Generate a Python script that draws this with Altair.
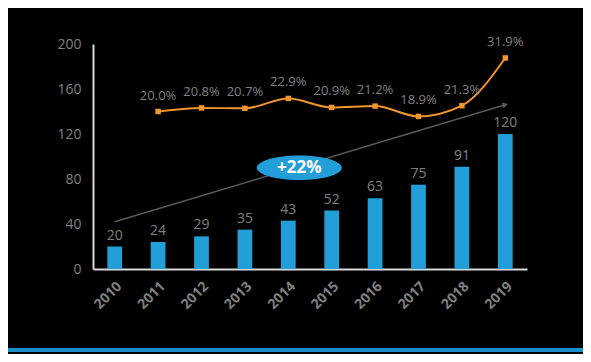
import altair as alt
import pandas as pd

# ---- data ----
years = ["2010", "2011", "2012", "2013", "2014", "2015", "2016", "2017", "2018", "2019"]
values = [20, 24, 29, 35, 43, 52, 63, 75, 91, 120]
growth_years = ["2011", "2012", "2013", "2014", "2015", "2016", "2017", "2018", "2019"]
growth = [20.0, 20.8, 20.7, 22.9, 20.9, 21.2, 18.9, 21.3, 31.9]
trend_years = ["2010", "2019"]
trend_values = [42, 146]
cagr_label = "+22%"
cagr_year = "2014"
cagr_value = 90
y_ticks = [0, 40, 80, 120, 160, 200]

BLUE = "#229ED9"
ORANGE = "#F0962A"
GREY = "#808080"
AXIS = "#D9D9D9"
FONT = "Open Sans"

bars_df = pd.DataFrame({"year": years, "value": values})
growth_df = pd.DataFrame({"year": growth_years, "pct": growth,
                          "label": [f"{g:.1f}%" for g in growth]})
trend_df = pd.DataFrame({"year": [trend_years[0]], "y": [trend_values[0]],
                         "year2": [trend_years[1]], "y2": [trend_values[1]]})
head_df = pd.DataFrame({"year": [trend_years[1]], "y": [trend_values[1]]})
cagr_df = pd.DataFrame({"year": [cagr_year], "y": [cagr_value], "label": [cagr_label]})

xscale = alt.Scale(domain=years, paddingInner=0.66, paddingOuter=0.33)
yscale = alt.Scale(domain=[0, 200])
pscale = alt.Scale(domain=[-15, 35])


def X():
    return alt.X("year:N", scale=xscale, title=None,
                 axis=alt.Axis(labelAngle=-45, labelColor=GREY, labelFontSize=14,
                               labelFontWeight="bold", labelFont=FONT,
                               domainColor=AXIS, domainWidth=2,
                               ticks=False, labelPadding=10))


def Y(field):
    return alt.Y(field, scale=yscale, title=None,
                 axis=alt.Axis(values=y_ticks, labelColor=GREY, labelFontSize=14,
                               labelFont=FONT, domainColor=AXIS, domainWidth=2,
                               ticks=False, grid=False, labelPadding=12))


bars = alt.Chart(bars_df).mark_bar(color=BLUE).encode(x=X(), y=Y("value:Q"))
bar_text = alt.Chart(bars_df).mark_text(
    color=GREY, fontSize=14, font=FONT, baseline="bottom", dy=-4
).encode(x=X(), y=Y("value:Q"), text="value:Q")

trend = alt.Chart(trend_df).mark_rule(color="#5A5A5A", strokeWidth=1.5).encode(
    x=X(), x2="year2:N", y=Y("y:Q"), y2="y2:Q")
head = alt.Chart(head_df).mark_point(
    shape="triangle-right", filled=True, color="#5A5A5A", size=40, angle=343, opacity=1
).encode(x=X(), y=Y("y:Q"))

ellipse_path = "M -1 0 A 1 0.29 0 1 1 1 0 A 1 0.29 0 1 1 -1 0 Z"
cagr_shape = alt.Chart(cagr_df).mark_point(
    shape=ellipse_path, filled=True, color=BLUE, size=7225, opacity=1, xOffset=11
).encode(x=X(), y=Y("y:Q"))
cagr_text = alt.Chart(cagr_df).mark_text(
    color="white", fontSize=17, font=FONT, fontWeight="bold", xOffset=11
).encode(x=X(), y=Y("y:Q"), text="label:N")

bottom_line = alt.Chart(bars_df).mark_rule(color="#1E8FC8", strokeWidth=3).encode(
    x=alt.value(-85), x2=alt.value(490), y=alt.value(306))

primary = alt.layer(bars, bar_text, trend, head, cagr_shape, cagr_text, bottom_line)

line = alt.Chart(growth_df).mark_line(
    color=ORANGE, strokeWidth=2, interpolate="monotone"
).encode(x=X(), y=alt.Y("pct:Q", scale=pscale, axis=None))
pts = alt.Chart(growth_df).mark_point(
    shape="square", filled=True, color=ORANGE, size=30, opacity=1
).encode(x=X(), y=alt.Y("pct:Q", scale=pscale, axis=None))
pct_text = alt.Chart(growth_df).mark_text(
    color=GREY, fontSize=13, font=FONT, baseline="bottom", dy=-9
).encode(x=X(), y=alt.Y("pct:Q", scale=pscale, axis=None), text="label:N")

secondary = alt.layer(line, pts, pct_text)

chart = alt.layer(primary, secondary).resolve_scale(y="independent").properties(
    width=434, height=225,
    autosize=alt.AutoSizeParams(type="none"),
    padding={"left": 85, "top": 36, "right": 56, "bottom": 85},
    background="black",
).configure(font=FONT).configure_view(stroke="transparent", strokeWidth=0)

chart.save("out.html", embed_options={"renderer": "svg", "actions": False})
